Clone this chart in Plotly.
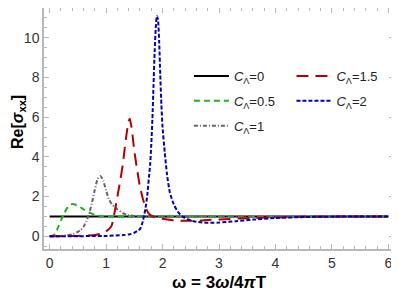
import plotly.graph_objects as go

# ---------------- data ----------------
x_c0 = [0, 1, 2, 3, 4, 5, 6]
y_c0 = [1, 1, 1, 1, 1, 1, 1]

x_c05 = [0, 0.05, 0.1, 0.15, 0.2, 0.25, 0.3, 0.35, 0.4, 0.45, 0.5, 0.55, 0.6, 0.7,
         0.8, 0.9, 1.0, 1.2, 1.5, 2, 3, 4, 5, 6]
y_c05 = [0, 0.03, 0.12, 0.45, 0.8, 1.1, 1.38, 1.56, 1.63, 1.6, 1.53, 1.45, 1.36, 1.2,
         1.08, 1.02, 0.99, 0.98, 0.99, 1.0, 1.0, 1.0, 1.0, 1.0]

x_c1 = [0, 0.2, 0.3, 0.4, 0.5, 0.55, 0.6, 0.65, 0.7, 0.75, 0.8, 0.85, 0.9, 0.95,
        1.0, 1.05, 1.1, 1.15, 1.2, 1.3, 1.4, 1.6, 1.8, 2.0, 2.5, 3, 4, 5, 6]
y_c1 = [0, 0.02, 0.05, 0.1, 0.22, 0.32, 0.48, 0.75, 1.15, 1.7, 2.35, 2.88, 3.04, 2.8,
        2.3, 1.88, 1.62, 1.48, 1.36, 1.16, 1.07, 1.0, 0.98, 0.98, 0.99, 1.0, 1.0, 1.0, 1.0]

x_c15 = [0, 0.5, 0.8, 0.9, 0.96, 1.0, 1.05, 1.1, 1.15, 1.2, 1.25, 1.3, 1.35, 1.4,
         1.42, 1.45, 1.5, 1.55, 1.6, 1.65, 1.7, 1.75, 1.8, 1.9, 2.0, 2.2, 2.4, 2.7,
         3.0, 3.5, 4, 4.5, 5, 6]
y_c15 = [0, 0.02, 0.07, 0.12, 0.18, 0.25, 0.36, 0.55, 1.2, 2.0, 2.8, 3.7, 4.9, 5.8,
         5.92, 5.5, 4.3, 3.35, 2.5, 1.9, 1.45, 1.17, 1.04, 0.93, 0.88, 0.8, 0.78, 0.8,
         0.85, 0.91, 0.95, 0.98, 0.99, 1.0]

x_c2 = [0, 1.0, 1.3, 1.42, 1.5, 1.55, 1.6, 1.65, 1.7, 1.73, 1.76, 1.78, 1.8, 1.82,
        1.84, 1.86, 1.88, 1.9, 1.92, 1.94, 1.96, 1.98, 2.0, 2.04, 2.08, 2.13, 2.2,
        2.28, 2.35, 2.45, 2.55, 2.7, 2.85, 3.0, 3.3, 3.6, 4.0, 4.5, 5, 6]
y_c2 = [0, 0.02, 0.06, 0.1, 0.18, 0.26, 0.36, 0.75, 1.45, 2.1, 3.0, 3.6, 4.6, 5.9,
        7.6, 9.3, 10.5, 11.1, 10.9, 9.8, 8.1, 6.6, 5.5, 4.2, 3.1, 2.2, 1.6,
        1.2, 1.0, 0.85, 0.76, 0.7, 0.68, 0.69, 0.76, 0.84, 0.92, 0.97, 0.99, 1.0]

x_ticks = [0, 1, 2, 3, 4, 5, 6]
y_ticks = [0, 2, 4, 6, 8, 10]

FONT = "Liberation Sans, Arial, sans-serif"

series = [
    ("<i>C</i><sub>Λ</sub>=0", x_c0, y_c0, "#000000", "solid", "legend", 2.0),
    ("<i>C</i><sub>Λ</sub>=0.5", x_c05, y_c05, "#22b222", "6px,4px", "legend", 2.0),
    ("<i>C</i><sub>Λ</sub>=1", x_c1, y_c1, "#666666", "4px,2px,1px,2px", "legend", 2.0),
    ("<i>C</i><sub>Λ</sub>=1.5", x_c15, y_c15, "#b40000", "12px,7px", "legend2", 2.0),
    ("<i>C</i><sub>Λ</sub>=2", x_c2, y_c2, "#0000b4", "4px,2px", "legend2", 2.0),
]

fig = go.Figure()
for i, (name, xs, ys, col, dash, leg, w) in enumerate(series):
    fig.add_trace(go.Scatter(
        x=xs, y=ys, mode="lines", name=name,
        line=dict(color=col, dash=dash, width=w, shape="spline", smoothing=0.6),
        legend=leg, legendgroup=f"g{i}",
    ))

axis_common = dict(
    showline=True, linecolor="#b8b8b8", linewidth=1.5, mirror="allticks",
    ticks="inside", ticklen=5, tickcolor="#b8b8b8", tickwidth=1,
    showgrid=False, zeroline=False, automargin=False,
    tickfont=dict(family=FONT, size=14, color="#333333"),
)

# The page body has an 8px margin, so the figure is sized to fit the window.
fig.update_layout(
    width=391, height=286,
    margin=dict(l=36, r=5, t=0, b=45),
    paper_bgcolor="white", plot_bgcolor="white",
    xaxis=dict(
        range=[-0.1, 6.1], tickvals=x_ticks,
        minor=dict(ticks="inside", ticklen=3, dtick=0.2, tick0=0, tickcolor="#b8b8b8"),
        **axis_common,
    ),
    yaxis=dict(
        range=[-0.64, 11.5], tickvals=y_ticks,
        minor=dict(ticks="inside", ticklen=3, dtick=0.5, tick0=0, tickcolor="#b8b8b8"),
        **axis_common,
    ),
    annotations=[
        dict(text="<b>ω = 3<i>ω</i>/4<i>π</i>T</b>", xref="paper", yref="paper",
             x=0.5, y=-0.137, xanchor="center", yanchor="middle", showarrow=False,
             font=dict(family=FONT, size=17, color="#000")),
        dict(text="<b>Re[<i>σ</i><sub>xx</sub>]</b>", xref="paper", yref="paper",
             x=-0.0714, y=0.527, xanchor="center", yanchor="middle", showarrow=False,
             textangle=-90, font=dict(family=FONT, size=16, color="#000")),
    ],
    legend=dict(
        x=0.414, y=0.78, xanchor="left", yanchor="top",
        font=dict(family=FONT, size=13, color="#222222"),
        bgcolor="rgba(0,0,0,0)", tracegroupgap=5, itemwidth=35,
    ),
    legend2=dict(
        x=0.707, y=0.78, xanchor="left", yanchor="top",
        font=dict(family=FONT, size=13, color="#222222"),
        bgcolor="rgba(0,0,0,0)", tracegroupgap=5, itemwidth=35,
    ),
    showlegend=True,
)

fig.write_html("out.html")
